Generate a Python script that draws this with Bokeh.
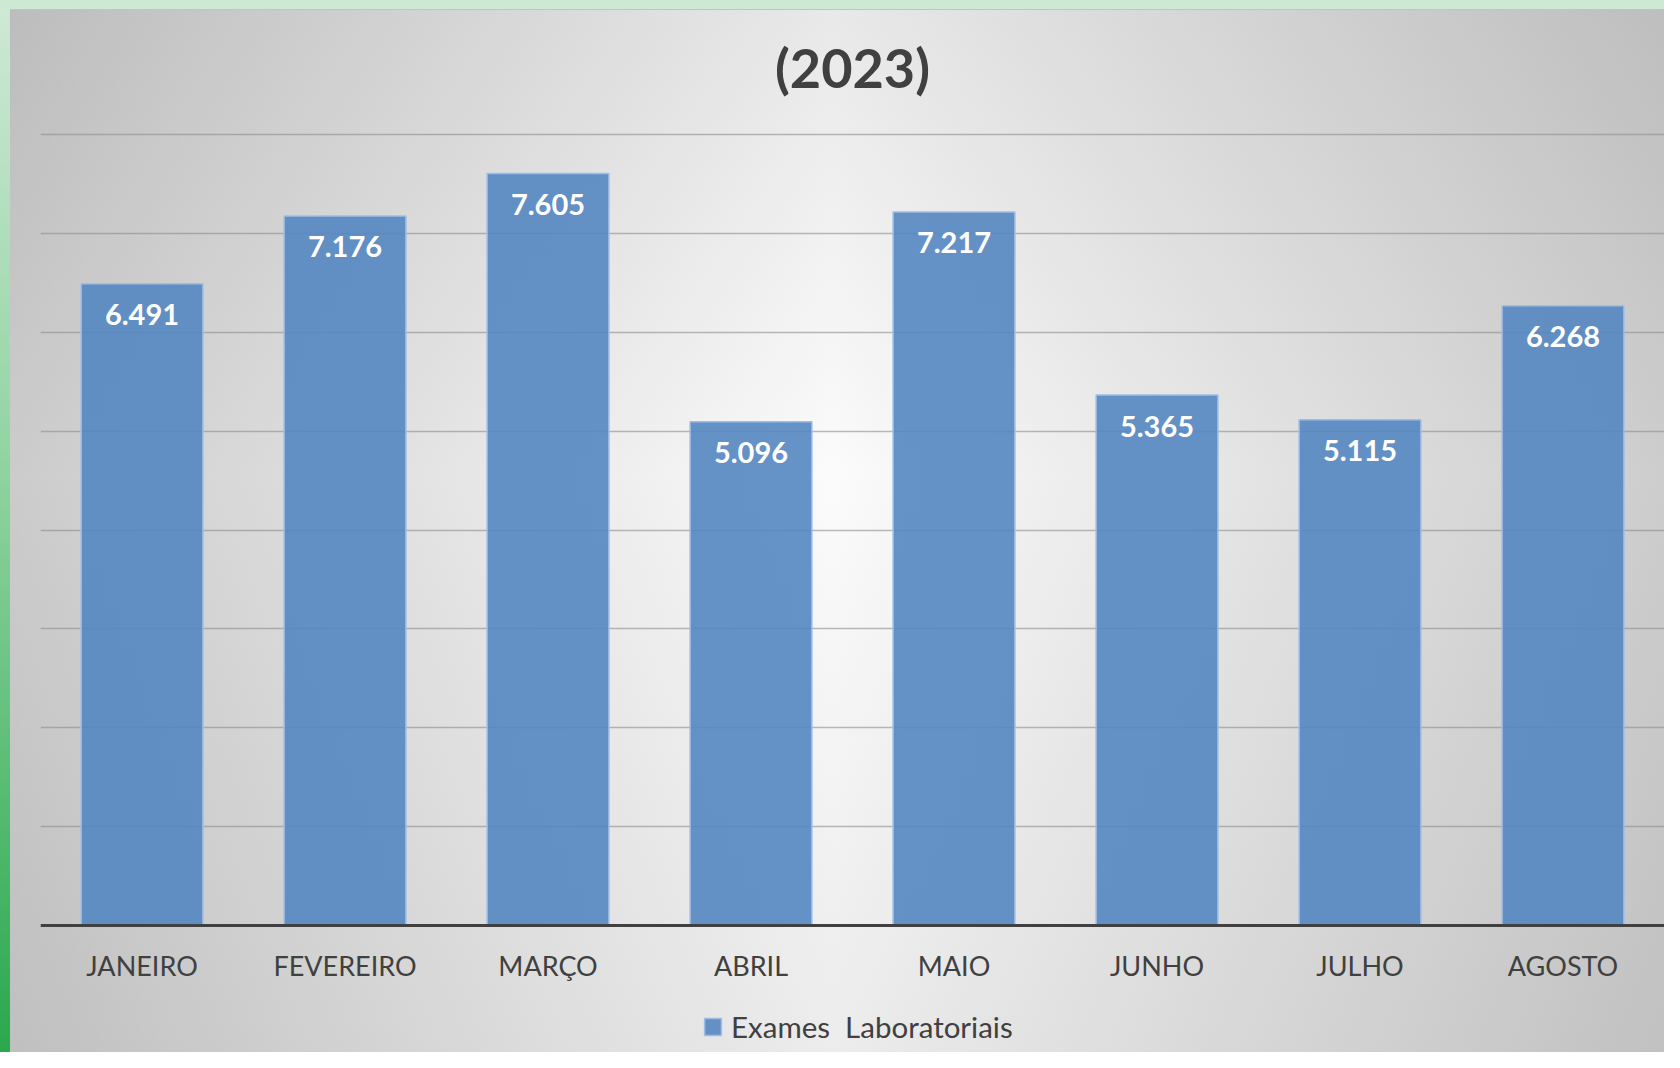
from bokeh.plotting import figure
from bokeh.models import (ColumnDataSource, FactorRange, Range1d, FixedTicker, LabelSet, Label,
                          Legend, LegendItem, Grid, InlineStyleSheet)
from bokeh.core.properties import value
from bokeh.embed import file_html
from bokeh.resources import INLINE

# ---- data ----
TITLE = "(2023)"
MONTHS = ["JANEIRO", "FEVEREIRO", "MARÇO", "ABRIL", "MAIO", "JUNHO", "JULHO", "AGOSTO"]
EXAMES = [6491, 7176, 7605, 5096, 7217, 5365, 5115, 6268]
Y_TICKS = [0, 1000, 2000, 3000, 4000, 5000, 6000, 7000, 8000]
SERIES_NAME = "Exames  Laboratoriais"

labels = [f"{v:,}".replace(",", ".") for v in EXAMES]
src = ColumnDataSource(dict(month=MONTHS, value=EXAMES, label=labels))

TEXT = "#404040"
FONT = "Lato"

# ---- layout (pixels) ----
W, H = 1664, 1052
LEFT = 40            # frame left edge
TOP_GRID = 134       # pixel row of the top gridline
AXIS_Y = 925         # pixel row of the category axis
px_per_unit = (AXIS_Y - TOP_GRID) / (Y_TICKS[-1] - Y_TICKS[0])
y_end = Y_TICKS[-1] + TOP_GRID / px_per_unit
y_start = Y_TICKS[0] - (H - AXIS_Y) / px_per_unit

css = InlineStyleSheet(css="""
:host {
  background-color: #f8f8f8;
  background-image:
    linear-gradient(#cde9d3, #cde9d3),
    linear-gradient(to bottom, #cfe9d5 0%, #8fd3a0 45%, #2aa84e 100%),
    linear-gradient(#c2c2c2, #c2c2c2),
    linear-gradient(to right, #cbcbcb 0%, #fbfbfb 50%, #cdcdcd 100%),
    linear-gradient(to bottom, #ececec 0%, #ffffff 45%, #f0f0f0 100%);
  background-size: 100% 9px, 10px 100%, 100% 1px, 100% 100%, 100% 100%;
  background-position: 0 0, 0 0, 0 9px, 0 0, 0 0;
  background-repeat: no-repeat;
  background-blend-mode: normal, normal, normal, multiply, normal;
}
""")

p = figure(x_range=FactorRange(factors=MONTHS, range_padding=0),
           y_range=Range1d(y_start, y_end),
           width=W, height=H, output_backend="svg", toolbar_location=None,
           y_axis_location=None,
           min_border_left=LEFT, min_border_right=0, min_border_top=0, min_border_bottom=0,
           border_fill_color=None, background_fill_color=None, outline_line_color=None,
           stylesheets=[css])
p.title = None

p.grid.visible = False
p.add_layout(Grid(dimension=1, ticker=FixedTicker(ticks=Y_TICKS),
                  grid_line_color="#8c8c8c", grid_line_alpha=0.6, grid_line_width=1.5))

r = p.vbar(x="month", top="value", width=0.6, source=src,
           fill_color="#5587c1", fill_alpha=0.9,
           line_color="#9ebde6", line_width=1.5)

p.add_layout(LabelSet(x="month", y="value", text="label", source=src, y_offset=-31,
                      text_align="center", text_baseline="middle",
                      text_font=value(FONT), text_font_style="bold",
                      text_font_size="29px", text_color="white"))

ax = p.xaxis[0]
ax.fixed_location = 0
ax.axis_line_width = 3
ax.axis_line_color = TEXT
ax.major_tick_line_color = None
ax.minor_tick_line_color = None
ax.major_label_text_font = FONT
ax.major_label_text_font_size = "27px"
ax.major_label_text_color = TEXT
ax.major_label_standoff = 17

p.add_layout(Label(x=(W - LEFT) / 2, y=H - 67, x_units="screen", y_units="screen",
                   text=TITLE, text_align="center", text_baseline="middle",
                   text_font=FONT, text_font_style="bold", text_font_size="54px",
                   text_color=TEXT))

legend = Legend(items=[LegendItem(label=SERIES_NAME, renderers=[r])],
                location=(662, 8), orientation="horizontal",
                label_text_font=FONT, label_text_font_size="29.5px", label_text_color=TEXT,
                glyph_width=21, glyph_height=21, label_standoff=8,
                border_line_color=None, background_fill_alpha=0, padding=0, margin=0)
p.add_layout(legend)

html = file_html(p, INLINE, title="Exames Laboratoriais 2023")
open("out.html", "w").write(html)
